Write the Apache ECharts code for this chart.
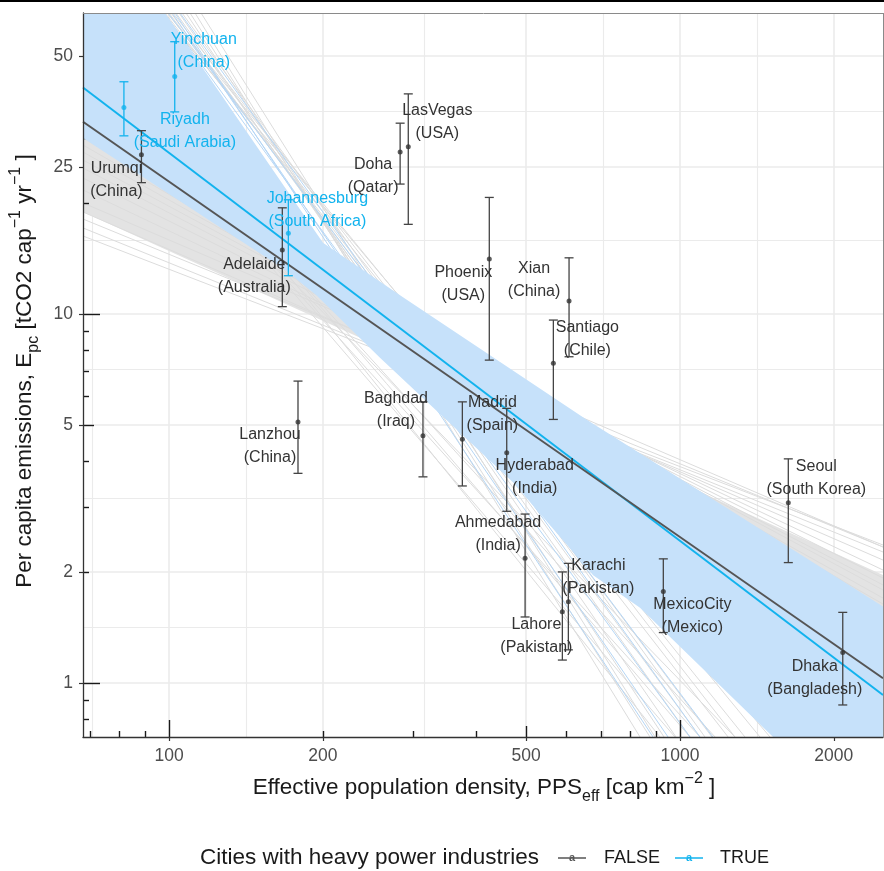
<!DOCTYPE html>
<html>
<head>
<meta charset="utf-8">
<script src="https://cdn.jsdelivr.net/npm/echarts@6/dist/echarts.min.js"></script>
<style>
html, body { margin: 0; padding: 0; background: #fff; }
#chart { width: 884px; height: 871px; }
</style>
</head>
<body>
<div id="chart"></div>
<script>
// ---- data ----
var cities = ['Riyadh', 'Yinchuan', 'Johannesburg', 'Urumqi', 'Adelaide', 'Lanzhou', 'Doha', 'LasVegas',
    'Phoenix', 'Xian', 'Santiago', 'Baghdad', 'Madrid', 'Hyderabad', 'Ahmedabad', 'Lahore', 'Karachi',
    'MexicoCity', 'Seoul', 'Dhaka'];
var countries = ['Saudi Arabia', 'China', 'South Africa', 'China', 'Australia', 'China', 'Qatar', 'USA',
    'USA', 'China', 'Chile', 'Iraq', 'Spain', 'India', 'India', 'Pakistan', 'Pakistan',
    'Mexico', 'South Korea', 'Bangladesh'];
var heavyPower = [true, true, true, false, false, false, false, false, false, false, false, false, false,
    false, false, false, false, false, false, false];
var density = [81.6, 102.6, 171.2, 88.3, 166.6, 178.8, 283.3, 293.9, 423.4, 606.5, 565.1, 314, 375, 458,
    497.5, 588.5, 604.6, 927.5, 1629, 2082];
var emissions = [36.3, 44.0, 16.55, 27.0, 14.9, 5.10, 27.5, 28.4, 14.1, 10.85, 7.35, 4.68, 4.58, 4.21,
    2.18, 1.56, 1.66, 1.77, 3.08, 1.21];
var emissionsLow = [30.4, 35.3, 12.7, 22.7, 10.47, 3.70, 22.5, 17.5, 7.5, 7.66, 5.18, 3.62, 3.42, 2.92,
    1.51, 1.154, 1.23, 1.37, 2.12, 0.872];
var emissionsHigh = [42.6, 54.7, 20.4, 31.4, 19.4, 6.58, 32.9, 39.5, 20.7, 14.2, 9.63, 5.78, 5.78, 5.55,
    2.87, 2.0, 2.11, 2.17, 4.05, 1.554];

// axis ranges and breaks
var xRange = [67.86, 2496];
var yRange = [0.714, 65.43];
var xBreaks = [100, 200, 500, 1000, 2000];
var xMinor = [70.71, 141.42, 316.23, 707.11, 1414.2];
var yBreaks = [1, 2, 5, 10, 25, 50];
var yMinor = [1.4142, 3.1623, 7.0711, 15.811, 35.355];
var xTicksShort = [70, 80, 90, 200, 300, 400, 600, 700, 800, 900, 2000];
var xTicksMid = [500];
var xTicksLong = [100, 1000];
var yTicksShort = [0.8, 0.9, 2, 3, 4, 6, 7, 8, 9, 20, 30, 40, 60];
var yTicksMid = [5, 50];
var yTicksLong = [1, 10];

// fitted lines, values at the ends of the x range
var fitX = [67.86, 2496];
var fitFalse = [33.2, 1.03];
var fitTrue = [41.1, 0.928];

// confidence band outline (upper edge left->right, lower edge right->left)
var bandX = [67.86, 98.2, 200.1, 287, 658, 2500, 2500, 1521, 835, 676, 471, 259, 194, 167, 67.86];
var bandY = [137.5, 65.4, 15.6, 11.1, 5.16, 1.61, 0.357, 0.714, 1.6, 1.96, 3.5, 7.6, 11.26, 13.3, 30.0];

// dense core of the shallow bootstrap lines
var fanX = [67.86, 2496, 2496, 67.86];
var fanY = [29.99, 1.557, 1.962, 18.90];

// bootstrap lines: shallow ones (left value -> right value)
var shallowLeftY = [29.99, 28.71, 27.48, 26.14, 24.87, 23.37, 21.68, 20.0, 18.90, 18.09, 17.11, 16.27];
var shallowRightY = [1.557, 1.637, 1.699, 1.787, 1.844, 1.926, 2.024, 2.337, 2.154, 2.337, 2.265, 2.366];
// steep ones (x where they leave the top -> x where they hit the bottom)
var steepTopX = [96.46, 97.33, 98.21, 99.10, 100.0, 100.9, 101.82, 103.2, 104.61, 106.03, 107.96, 109.93, 112.43, 115.52];
var steepBottomX = [1500, 1340, 1242, 1434, 1155, 1094, 1281, 1046, 982.1, 1119, 930.6, 873.6, 835.1, 893.5];
// medium ones (left value -> x at the bottom)
var mediumLeftY = [58.86, 54.6, 50.34, 62.64, 47.3, 52.6];
var mediumBottomX = [1046, 1171, 1094, 914.0, 1281, 977.7];
// light blue bootstrap lines of the heavy power group
var blueTopX = [97.77, 99.55, 101.36, 102.74, 105.08];
var blueBottomX = [1046, 1160, 947.5, 885.5, 1094];

// label placement, pixel offset of the two-line label from its point
var labelOffset = [[61, 23.5], [29, -25], [29, -23.5], [-25, 25.5], [-28, 26], [-28, 24.5], [-27, 24.5],
    [29, -24.5], [-26, 25], [-35, -21], [34, -24.5], [-27, -25.5], [30, -25], [28, 24.5], [-27, -24.5],
    [-26, 24.5], [30, -25], [29, 25], [28, -25], [-28, 25.5]];

// ---- styling ----
var LG = Math.log10;
var FONT = "'Liberation Sans', Arial, Helvetica, sans-serif";
var BLUE = '#12b3ee';
var GRID = { left: 83, top: 13, width: 800, height: 724 };

function fmt(v) {
    return String(+Math.pow(10, v).toPrecision(3));
}

function axis(dim, extra) {
    var range = dim === 'x' ? xRange : yRange;
    var a = {
        type: 'value', gridIndex: 0, min: LG(range[0]), max: LG(range[1]),
        position: dim === 'x' ? 'bottom' : 'left', z: 0,
        axisLine: { show: false, onZero: false }, axisTick: { show: false }, axisLabel: { show: false },
        splitLine: { show: false }
    };
    return Object.assign(a, extra);
}

function logTicks(dim, values, len) {
    return axis(dim, {
        z: 1.5,
        axisTick: { show: true, inside: true, length: len, customValues: values.map(LG),
            lineStyle: { color: '#1a1a1a', width: 1.4 } }
    });
}

function gridLines(dim, values, width) {
    return axis(dim, {
        axisTick: { show: false, customValues: values.map(LG) },
        splitLine: { show: true, lineStyle: { color: '#ebebeb', width: width } }
    });
}

function mainAxis(dim, values) {
    return axis(dim, {
        z: 10,
        axisLine: { show: true, onZero: false, lineStyle: { color: '#333', width: 1.3 } },
        axisTick: { show: true, length: 4, customValues: values.map(LG), lineStyle: { color: '#333', width: 1.2 } },
        axisLabel: { show: true, customValues: values.map(LG), formatter: fmt, margin: 10,
            fontSize: 17.5, color: '#4d4d4d', fontFamily: FONT }
    });
}

function segments(x0, y0, x1, y1) {
    return x0.map(function (v, i) {
        return [LG(v), LG(y0[i]), LG(x1[i]), LG(y1[i])];
    });
}
function fill(n, v) {
    var out = [];
    for (var i = 0; i < n; i++) out.push(v);
    return out;
}

function lineSeries(data, color, width, z) {
    return {
        type: 'custom', silent: true, clip: true, z: z, data: data,
        renderItem: function (params, api) {
            var a = api.coord([api.value(0), api.value(1)]);
            var b = api.coord([api.value(2), api.value(3)]);
            return { type: 'line', shape: { x1: a[0], y1: a[1], x2: b[0], y2: b[1] },
                style: { stroke: color, lineWidth: width } };
        }
    };
}

function polygonSeries(xs, ys, color, z) {
    return {
        type: 'custom', silent: true, clip: true, z: z, data: [[LG(100), LG(10)]],
        renderItem: function (params, api) {
            var pts = xs.map(function (x, i) { return api.coord([LG(x), LG(ys[i])]); });
            return { type: 'polygon', shape: { points: pts }, style: { fill: color } };
        }
    };
}

function pick(arr, flag) {
    var out = [];
    arr.forEach(function (v, i) { if (heavyPower[i] === flag) out.push(v); });
    return out;
}

function errorBars(flag, color) {
    var data = [];
    cities.forEach(function (c, i) {
        if (heavyPower[i] === flag) data.push([LG(density[i]), LG(emissionsLow[i]), LG(emissionsHigh[i])]);
    });
    return {
        type: 'custom', silent: true, z: 6, data: data,
        renderItem: function (params, api) {
            var lo = api.coord([api.value(0), api.value(1)]);
            var hi = api.coord([api.value(0), api.value(2)]);
            var w = 4.5, st = { stroke: color, lineWidth: 1.3 };
            return { type: 'group', children: [
                { type: 'line', shape: { x1: lo[0], y1: lo[1], x2: hi[0], y2: hi[1] }, style: st },
                { type: 'line', shape: { x1: lo[0] - w, y1: lo[1], x2: lo[0] + w, y2: lo[1] }, style: st },
                { type: 'line', shape: { x1: hi[0] - w, y1: hi[1], x2: hi[0] + w, y2: hi[1] }, style: st }
            ] };
        }
    };
}

var steep = segments(steepTopX, fill(steepTopX.length, yRange[1]), steepBottomX, fill(steepTopX.length, yRange[0]));
var medium = segments(fill(mediumLeftY.length, xRange[0]), mediumLeftY, mediumBottomX, fill(mediumLeftY.length, yRange[0]));
var shallow = segments(fill(shallowLeftY.length, xRange[0]), shallowLeftY, fill(shallowLeftY.length, xRange[1]), shallowRightY);
var blueBoot = segments(blueTopX, fill(blueTopX.length, yRange[1]), blueBottomX, fill(blueTopX.length, yRange[0]));

var labelData = cities.map(function (c, i) { return [LG(density[i]), LG(emissions[i]), i]; });

var option = {
    animation: false,
    backgroundColor: '#fff',
    grid: GRID,
    xAxis: [
        mainAxis('x', xBreaks),
        gridLines('x', xBreaks, 1.6),
        gridLines('x', xMinor, 1.1),
        logTicks('x', xTicksShort, 6),
        logTicks('x', xTicksMid, 11),
        logTicks('x', xTicksLong, 17)
    ],
    yAxis: [
        mainAxis('y', yBreaks),
        gridLines('y', yBreaks, 1.6),
        gridLines('y', yMinor, 1.1),
        logTicks('y', yTicksShort, 6),
        logTicks('y', yTicksMid, 11),
        logTicks('y', yTicksLong, 17)
    ],
    series: [
        polygonSeries(fanX, fanY, '#e3e3e3', 1),
        lineSeries(shallow, '#dcdcdc', 1, 1),
        lineSeries(medium, '#dcdcdc', 1, 1),
        lineSeries(steep, '#dcdcdc', 1, 1),
        lineSeries(blueBoot, '#b5d6f5', 1, 1),
        polygonSeries(bandX, bandY, '#c6e1fa', 2),
        {
            type: 'line', name: 'TRUE', z: 4, silent: true, showSymbol: false, clip: true,
            data: fitX.map(function (x, i) { return [LG(x), LG(fitTrue[i])]; }),
            lineStyle: { color: BLUE, width: 2 }
        },
        {
            type: 'line', name: 'FALSE', z: 5, silent: true, showSymbol: false, clip: true,
            data: fitX.map(function (x, i) { return [LG(x), LG(fitFalse[i])]; }),
            lineStyle: { color: '#555', width: 2 }
        },
        errorBars(false, '#444'),
        errorBars(true, BLUE),
        {
            type: 'scatter', z: 7, silent: true, symbolSize: 5,
            data: pick(density, false).map(function (x, i) { return [LG(x), LG(pick(emissions, false)[i])]; }),
            itemStyle: { color: '#333' }
        },
        {
            type: 'scatter', z: 7, silent: true, symbolSize: 5,
            data: pick(density, true).map(function (x, i) { return [LG(x), LG(pick(emissions, true)[i])]; }),
            itemStyle: { color: BLUE }
        },
        {
            type: 'custom', z: 8, silent: true, data: labelData,
            renderItem: function (params, api) {
                var i = api.value(2);
                var p = api.coord([api.value(0), api.value(1)]);
                return {
                    type: 'text', x: p[0] + labelOffset[i][0], y: p[1] + labelOffset[i][1],
                    style: {
                        text: cities[i] + '\n(' + countries[i] + ')',
                        align: 'center', verticalAlign: 'middle', lineHeight: 23,
                        fontSize: 16, fontFamily: FONT, fill: heavyPower[i] ? BLUE : '#333'
                    }
                };
            }
        }
    ],
    graphic: [
        { type: 'rect', shape: { x: 0, y: 0, width: 884, height: 2 }, style: { fill: '#000' }, z: 100 },
        { type: 'line', shape: { x1: 83, y1: 13.5, x2: 884, y2: 13.5 }, style: { stroke: '#8a8a8a', lineWidth: 1 }, z: 100 },
        { type: 'line', shape: { x1: 883.5, y1: 13, x2: 883.5, y2: 737 }, style: { stroke: '#8a8a8a', lineWidth: 1 }, z: 100 },
        {
            type: 'text', x: 484, y: 788, z: 100,
            style: {
                text: '{n|Effective population density, PPS}{sub|eff}{n| [cap km}{sup|\u22122}{n| ]}',
                align: 'center', verticalAlign: 'middle', fill: '#1a1a1a', fontFamily: FONT,
                rich: {
                    n: { fontSize: 22.5, lineHeight: 34, fontFamily: FONT, fill: '#1a1a1a' },
                    sub: { fontSize: 16, lineHeight: 19, verticalAlign: 'bottom', fontFamily: FONT, fill: '#1a1a1a' },
                    sup: { fontSize: 16, lineHeight: 16, verticalAlign: 'top', fontFamily: FONT, fill: '#1a1a1a' }
                }
            }
        },
        {
            type: 'text', x: 25, y: 371, rotation: Math.PI / 2, z: 100,
            style: {
                text: '{n|Per capita emissions, E}{sub|pc}{n| [tCO2 cap}{sup|\u22121}{n| yr}{sup|\u22121}{n| ]}',
                align: 'center', verticalAlign: 'middle', fill: '#1a1a1a', fontFamily: FONT,
                rich: {
                    n: { fontSize: 22.5, lineHeight: 34, fontFamily: FONT, fill: '#1a1a1a' },
                    sub: { fontSize: 16, lineHeight: 19, verticalAlign: 'bottom', fontFamily: FONT, fill: '#1a1a1a' },
                    sup: { fontSize: 16, lineHeight: 16, verticalAlign: 'top', fontFamily: FONT, fill: '#1a1a1a' }
                }
            }
        },
        {
            type: 'text', x: 200, y: 858, z: 100,
            style: { text: 'Cities with heavy power industries', align: 'left', verticalAlign: 'middle',
                fontSize: 22.5, fontFamily: FONT, fill: '#1a1a1a' }
        },
        { type: 'line', shape: { x1: 558, y1: 858, x2: 586, y2: 858 }, style: { stroke: '#555', lineWidth: 1.5 }, z: 100 },
        { type: 'text', x: 572, y: 858, z: 101, style: { text: 'a', align: 'center', verticalAlign: 'middle', fontSize: 11, fontWeight: 'bold', fontFamily: FONT, fill: '#555' } },
        { type: 'text', x: 604, y: 858, z: 100, style: { text: 'FALSE', align: 'left', verticalAlign: 'middle', fontSize: 18, fontFamily: FONT, fill: '#1a1a1a' } },
        { type: 'line', shape: { x1: 675, y1: 858, x2: 703, y2: 858 }, style: { stroke: BLUE, lineWidth: 1.5 }, z: 100 },
        { type: 'text', x: 689, y: 858, z: 101, style: { text: 'a', align: 'center', verticalAlign: 'middle', fontSize: 11, fontWeight: 'bold', fontFamily: FONT, fill: BLUE } },
        { type: 'text', x: 720, y: 858, z: 100, style: { text: 'TRUE', align: 'left', verticalAlign: 'middle', fontSize: 18, fontFamily: FONT, fill: '#1a1a1a' } }
    ]
};

var chart = echarts.init(document.getElementById('chart'));
chart.setOption(option);
</script>
</body>
</html>
